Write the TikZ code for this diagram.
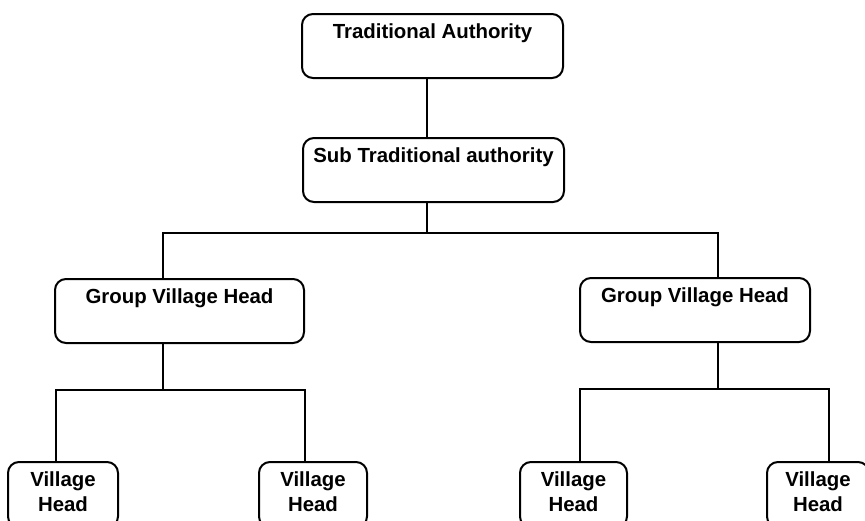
\documentclass[tikz,border=0pt]{standalone}
\usepackage{fontspec}
\setmainfont{Liberation Sans}
\colorlet{line colour}{black}
\tikzset{
    % Plain black lines, as on the printed chart
    link/.style={draw=line colour, line width=2pt},
%
    % Text is always centred in the boxes
    every node/.style={align=center},
}

\begin{document}
\begin{tikzpicture}[
    x=1pt, y=-1pt,
    basic node/.style={draw=line colour, line width=2pt, rounded corners=11pt,
        font=\bfseries\fontsize{20.4}{25}\selectfont,
        inner xsep=0pt, inner ysep=4pt, anchor=north},
    box/.style={basic node, text height=20.5pt, text depth=35.5pt},
    % two lines: the base line is the one of the last line
    tall box/.style={basic node, text height=45.5pt, text depth=12pt},
]
\useasboundingbox (0,0) rectangle (865,520);
\clip (0,0) rectangle (865,520);

\path
    (432.5,13) node [box, minimum width=261] (ta) {Traditional Authority}
    (433.5,137) node [box, minimum width=261] (sta) {Sub Traditional authority}
    (179.5,278) node [box, minimum width=249] (gv left) {Group Village Head}
    (695,277) node [box, minimum width=230] (gv right) {Group Village Head}
    (63,461) node [tall box, minimum width=110] (vh 1) {Village\\Head}
    (313,461) node [tall box, minimum width=108] (vh 2) {Village\\Head}
    (573.5,461) node [tall box, minimum width=107] (vh 3) {Village\\Head}
    (818,461) node [tall box, minimum width=102] (vh 4) {Village\\Head};

\draw [link] ([xshift=-6]ta.south) -- ([xshift=-7]sta.north);

\draw [link] ([xshift=-7]sta.south) -- ++(0,30) coordinate (split top);
\draw [link] ([xshift=-16.5]gv left.north) |- (split top)
    -| ([xshift=23]gv right.north);

\draw [link] ([xshift=-16.5]gv left.south) -- ++(0,46) coordinate (split left);
\draw [link] ([xshift=-7]vh 1.north) |- (split left) -| ([xshift=-8]vh 2.north);

\draw [link] ([xshift=23]gv right.south) -- ++(0,46) coordinate (split right);
\draw [link] ([xshift=6.5]vh 3.north) |- (split right) -| ([xshift=11]vh 4.north);

\end{tikzpicture}
\end{document}
